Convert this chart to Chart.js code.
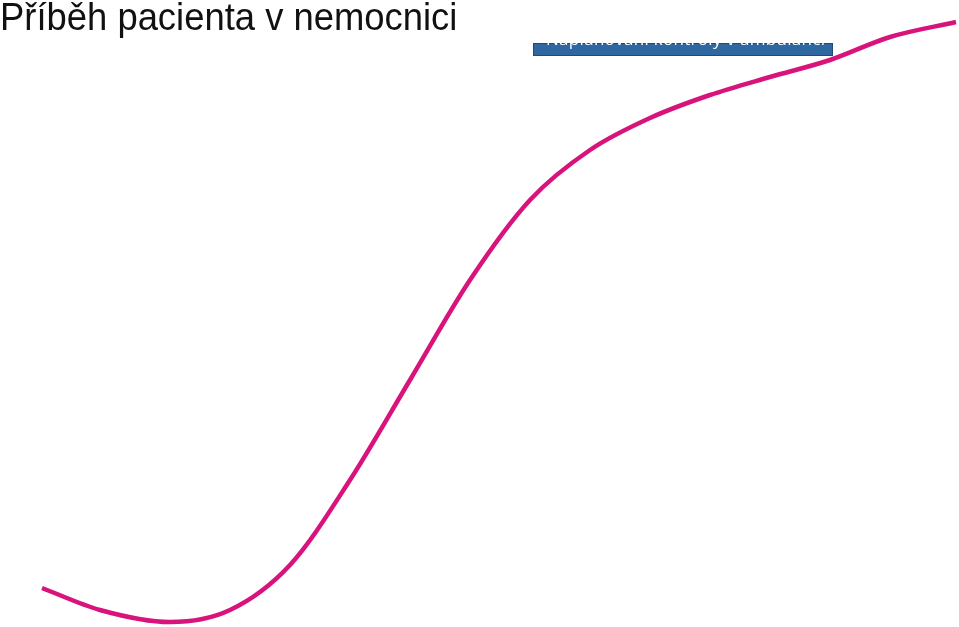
<!DOCTYPE html>
<html>
<head>
<meta charset="utf-8">
<script src="https://cdn.jsdelivr.net/npm/chart.js@4.4.0/dist/chart.umd.min.js"></script>
<style>
  html, body { margin: 0; padding: 0; background: #ffffff; }
  #wrap { position: relative; width: 959px; height: 627px; overflow: hidden; }
  #title {
    position: absolute; left: 0; top: -4px; transform-origin: 0 0;
    font-family: "Liberation Sans", Arial, sans-serif;
    font-size: 38px; color: #111; white-space: nowrap; z-index: 2;
  }
  #note {
    position: absolute; left: 533px; top: 43px; width: 298px; height: 11px;
    background: #2f67a0; border: 1px solid #1f4a78; z-index: 2;
  }
  #note span {
    position: absolute; left: 12px; top: -17px; white-space: nowrap;
    font-family: "Open Sans", Lato, sans-serif; font-size: 17px; color: #ffffff;
    letter-spacing: 0.3px;
  }
  canvas { position: absolute; left: 0; top: 0; }
</style>
</head>
<body>
<div id="wrap">
  <div id="title">Příběh pacienta v nemocnici</div>
  <div id="note"><span>Naplánování kontroly v ambulanci</span></div>
  <canvas id="journey" width="959" height="627"></canvas>
</div>
<script>
// Patient journey curve (x position along the story, y = progress level)
const journeyX = [42, 100, 170, 230, 290, 350, 410, 470, 530, 590, 650, 710, 770, 830, 890, 956];
const journeyY = [39, 17, 5, 17, 62, 147, 247, 347, 427, 477, 509, 532, 550, 567, 590, 605];

// squeeze the title to the narrow look of the original
const title = document.getElementById('title');
title.style.transform = 'scaleX(' + (457 / title.scrollWidth) + ')';

const points = journeyX.map((x, i) => ({ x, y: journeyY[i] }));

new Chart(document.getElementById('journey').getContext('2d'), {
  type: 'line',
  data: {
    datasets: [{
      data: points,
      borderColor: '#d8137b',
      borderWidth: 4.5,
      cubicInterpolationMode: 'monotone',
      pointRadius: 0,
      fill: false
    }]
  },
  options: {
    responsive: false,
    animation: false,
    layout: { padding: 0 },
    plugins: { legend: { display: false }, tooltip: { enabled: false } },
    scales: {
      x: { type: 'linear', min: 0, max: 959, display: false },
      y: { type: 'linear', min: 0, max: 627, display: false }
    }
  }
});
</script>
</body>
</html>
